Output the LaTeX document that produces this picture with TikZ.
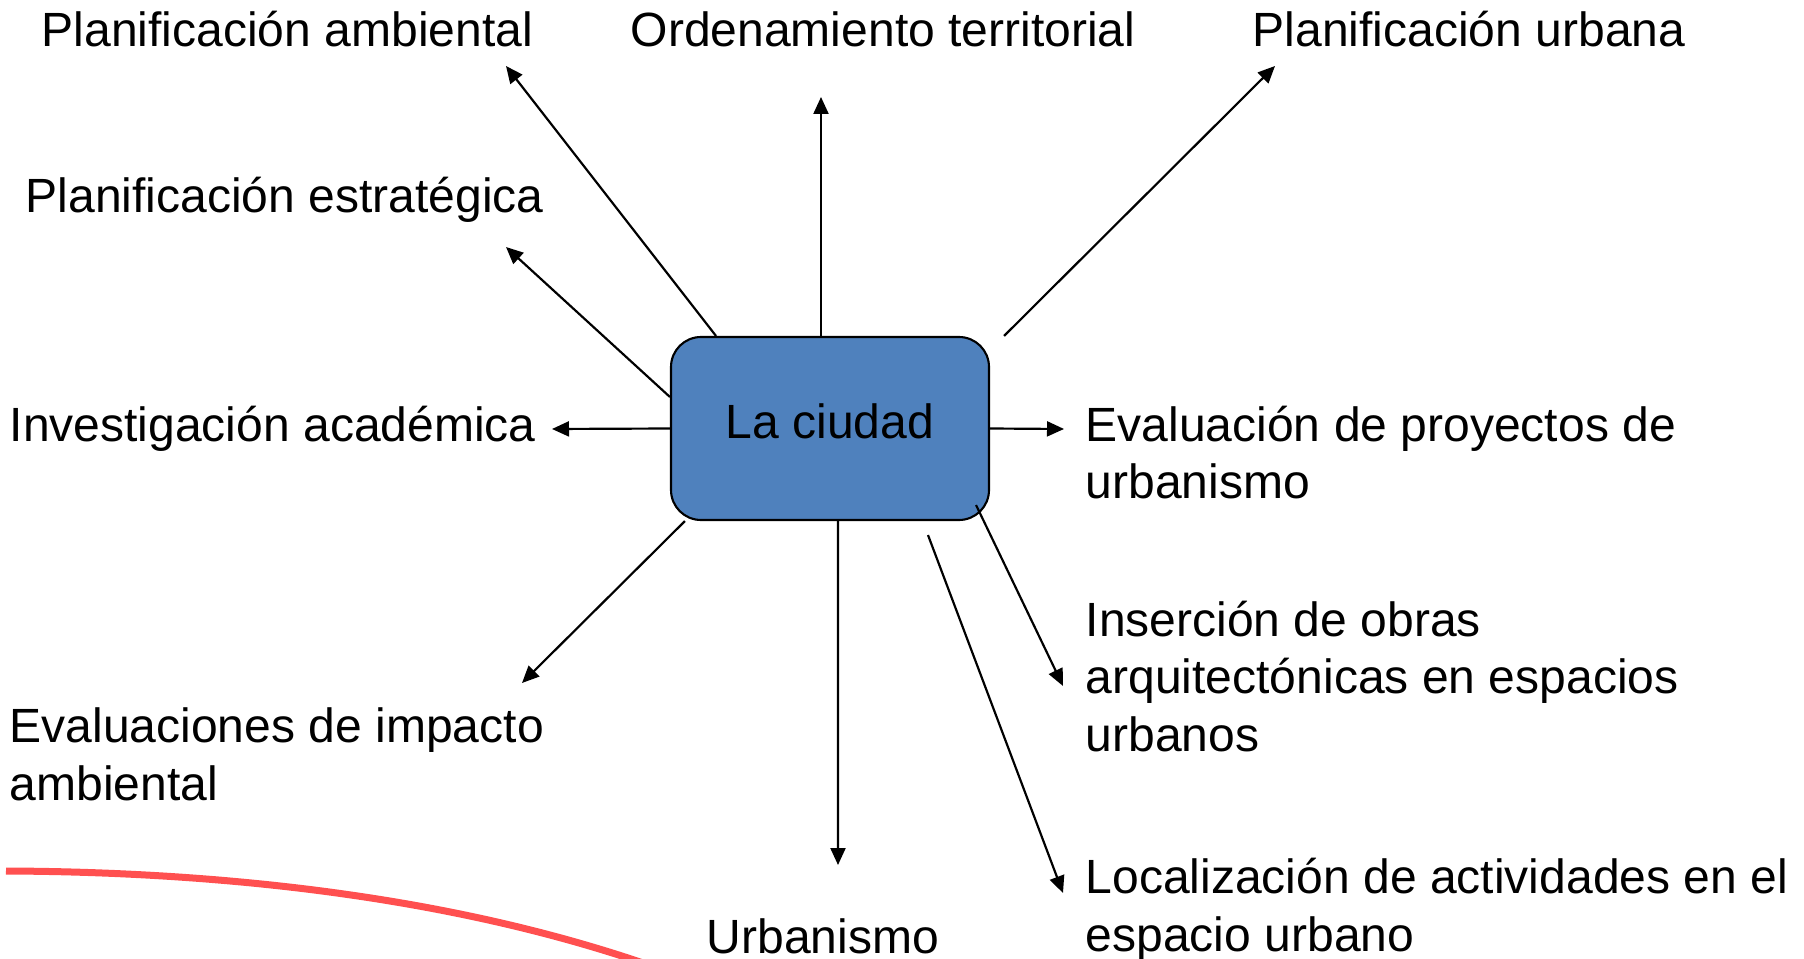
\documentclass[tikz,border=0pt]{standalone}
\usepackage{fontspec}
\setmainfont{Liberation Sans}
\usetikzlibrary{arrows.meta}
\definecolor{cityblue}{HTML}{4f81bd}
\definecolor{vred}{HTML}{ff5050}

\tikzset{
	lbl/.style={anchor=base west, inner sep=0pt, align=left, font=\fontsize{13.67}{16.36}\selectfont},
	arr/.style={color=black, line width=0.62pt, -{Triangle[length=0.17cm, width=0.15cm]}}
}

\begin{document}
\begin{tikzpicture}
		\clip (0,0) rectangle (18.04,-9.59);
		% la ciudad
		\node[draw=black, line width=0.6pt, fill=cityblue, rounded corners=0.3cm, minimum width=3.18cm, minimum height=1.83cm, text depth=0.14cm, font=\fontsize{13.67}{16.36}\selectfont] (city) at (8.30,-4.285) {La ciudad};
		% etiquetas
		\node[lbl] (amb) at (0.41,-0.47) {Planificación ambiental};
		\node[lbl] (ord) at (6.30,-0.47) {Ordenamiento territorial};
		\node[lbl] (urb) at (12.52,-0.47) {Planificación urbana};
		\node[lbl] (est) at (0.25,-2.13) {Planificación estratégica};
		\node[lbl] (inv) at (0.09,-4.41) {Investigación académica};
		\node[lbl] (eva) at (10.85,-4.985) {Evaluación de proyectos de\\urbanismo};
		\node[lbl] (ins) at (10.85,-7.51) {Inserción de obras\\arquitectónicas en espacios\\urbanos};
		\node[lbl] (imp) at (0.09,-8.00) {Evaluaciones de impacto\\ambiental};
		\node[lbl] (ubs) at (7.06,-9.53) {Urbanismo};
		\node[lbl] (loc) at (10.85,-9.51) {Localización de actividades en el\\espacio urbano};
		% puntas
		\coordinate (A) at (5.06,-0.66);
		\coordinate (B) at (8.21,-0.97);
		\coordinate (C) at (12.75,-0.66);
		\coordinate (D) at (5.06,-2.47);
		\coordinate (E) at (5.52,-4.29);
		\coordinate (F) at (10.64,-4.29);
		\coordinate (G) at (5.22,-6.83);
		\coordinate (H) at (8.38,-8.65);
		\coordinate (I) at (10.63,-6.86);
		\coordinate (J) at (10.63,-8.93);
		\draw[arr] ([xshift=-1.14cm]city.north) -- (A);
		\draw[arr] ([xshift=-0.09cm]city.north) -- (B);
		\draw[arr] ([xshift=0.14cm]city.north east) -- (C);
		\draw[arr] ([yshift=0.315cm]city.west) -- (D);
		\draw[arr] (city.west) -- (E);
		\draw[arr] (city.east) -- (F);
		\draw[arr] ([xshift=0.15cm]city.south west) -- (G);
		\draw[arr] ([xshift=0.08cm]city.south) -- (H);
		\draw[arr] ([xshift=-0.14cm, yshift=0.16cm]city.south east) -- (I);
		\draw[arr] ([xshift=0.98cm, yshift=-0.14cm]city.south) -- (J);
		% arco rojo
		\draw[color=vred, line width=0.07cm] (0.06,-8.71) .. controls (2.5,-8.72) and (4.9,-9.03) .. (6.9,-9.8);
	\end{tikzpicture}
\end{document}
